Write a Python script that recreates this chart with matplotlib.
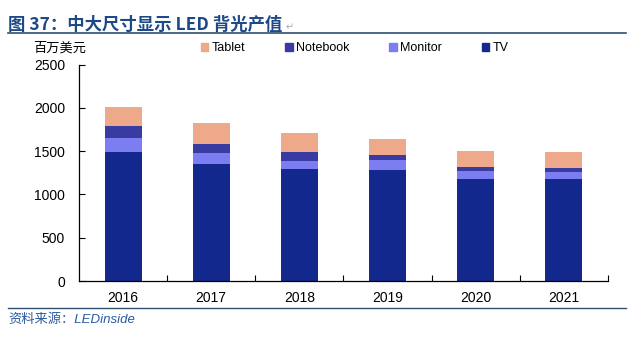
import numpy as np
import matplotlib.pyplot as plt
from matplotlib.patches import Patch

plt.rcParams['font.family'] = ['Liberation Sans', 'Noto Sans CJK SC', 'DejaVu Sans']

# LED backlight output value by application (million USD)
years = ['2016', '2017', '2018', '2019', '2020', '2021']
tv = [1485, 1350, 1290, 1280, 1180, 1180]
monitor = [165, 125, 100, 115, 90, 75]
notebook = [135, 105, 95, 55, 45, 45]
tablet = [220, 240, 220, 195, 185, 185]

c_tv = '#13288c'
c_monitor = '#7d7df2'
c_notebook = '#3a3aa3'
c_tablet = '#eea88a'

fig = plt.figure(figsize=(6.32, 3.38), dpi=100)
ax = fig.add_axes([0.125, 0.1686, 0.837, 0.6404])

x = np.arange(len(years))
w = 0.42
b1 = np.array(tv)
b2 = b1 + np.array(monitor)
b3 = b2 + np.array(notebook)
ax.bar(x, tv, w, color=c_tv)
ax.bar(x, monitor, w, bottom=b1, color=c_monitor)
ax.bar(x, notebook, w, bottom=b2, color=c_notebook)
ax.bar(x, tablet, w, bottom=b3, color=c_tablet)

ax.set_xlim(-0.5, 5.5)
ax.set_ylim(0, 2500)
ax.set_yticks(range(0, 2501, 500))
ax.set_xticks(x)
ax.set_xticklabels(years)
ax.set_xticks(np.arange(0.5, 6, 1), minor=True)
ax.tick_params(axis='x', which='major', length=0, pad=7, labelsize=10)
ax.tick_params(axis='x', which='minor', direction='in', length=4, width=0.8)
ax.tick_params(axis='y', direction='in', length=4, width=0.8, pad=10, labelsize=10)
for s in ['top', 'right']:
    ax.spines[s].set_visible(False)
for s in ['left', 'bottom']:
    ax.spines[s].set_linewidth(0.9)

handles = [Patch(color=c_tablet, label='Tablet'),
           Patch(color=c_notebook, label='Notebook'),
           Patch(color=c_monitor, label='Monitor'),
           Patch(color=c_tv, label='TV')]
fig.legend(handles=handles, loc='center left', bbox_to_anchor=(0.318, 0.858),
           ncol=4, frameon=False, fontsize=9, handlelength=0.6, handleheight=0.6,
           handletextpad=0.25, columnspacing=3.2, borderpad=0, borderaxespad=0)

fig.text(0.052, 0.858, '百万美元', fontsize=9.5, va='center', ha='left',
         family=['Noto Sans CJK SC'])

# header and footer
fig.text(0.013, 0.925, '图 37：中大尺寸显示 LED 背光产值', fontsize=12.5,
         fontweight='bold', color='#1d4a86', va='center', ha='left',
         family=['Noto Sans CJK SC', 'DejaVu Sans'])
fig.text(0.452, 0.918, '↵', fontsize=7, color='#aaaaaa', va='center',
         family=['DejaVu Sans'])
fig.add_artist(plt.Line2D([0.013, 0.99], [0.902, 0.902], color='#2f4f6f', lw=1.2))
fig.add_artist(plt.Line2D([0.013, 0.99], [0.089, 0.089], color='#2f4f6f', lw=1.0))
fig.text(0.013, 0.055, '资料来源：LEDinside', fontsize=9.5, style='italic',
         color='#2a5aa0', va='center', ha='left',
         family=['Liberation Sans', 'Noto Sans CJK SC'])

fig.savefig('out.png', dpi=100)
